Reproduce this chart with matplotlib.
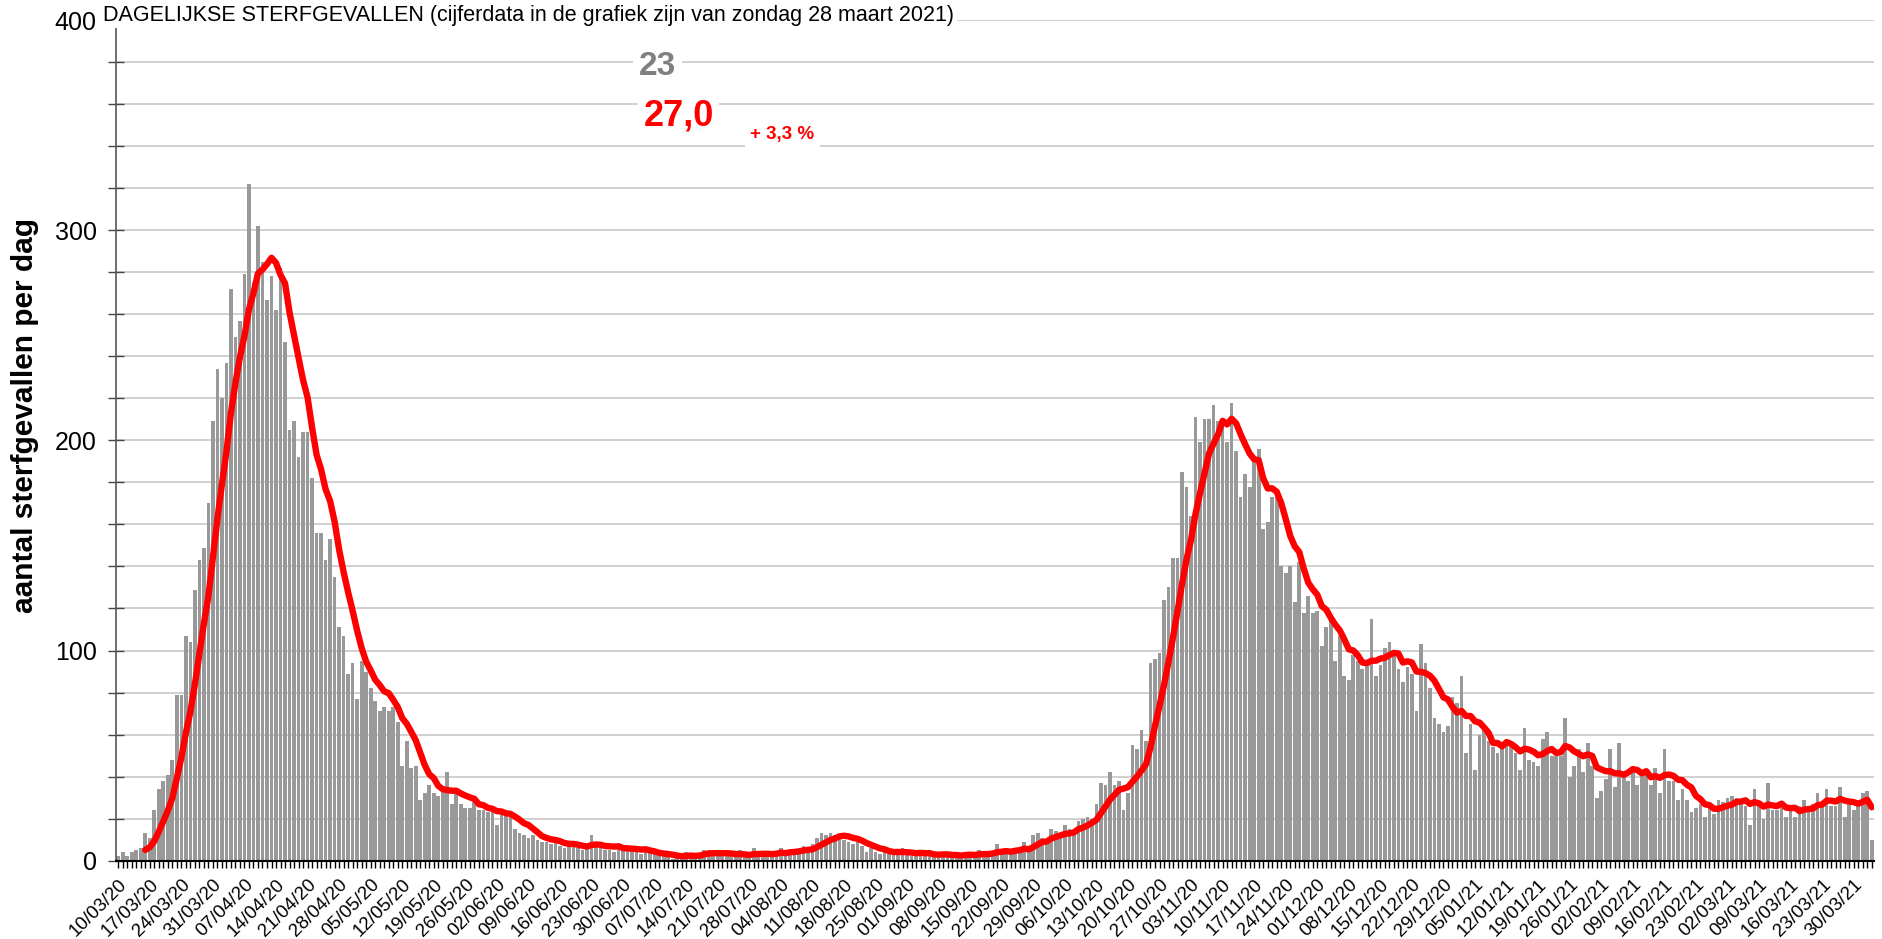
import matplotlib
matplotlib.use("Agg")
import matplotlib.pyplot as plt
import numpy as np
import pandas as pd

plt.rcParams["font.family"] = ["Liberation Sans", "DejaVu Sans"]

# Dagelijkse sterfgevallen vanaf 10/03/2020
wave1 = [2, 4, 2, 4, 5, 6, 13, 11, 24, 34, 38, 41, 48, 79, 79, 107, 104, 129, 143, 149,
         170, 209, 234, 220, 237, 272, 249, 257, 279, 322, 275, 302, 285, 267, 278, 262, 282, 247, 205, 209,
         192, 204, 204, 182, 156, 156, 143, 153, 135, 111, 107, 89, 94, 77, 95, 90, 82, 76, 71, 73,
         71, 73, 66, 45, 57, 44, 45, 29, 32, 36, 32, 31, 33, 42, 27, 32, 27, 25, 25, 28]
summer = [24, 24, 23, 24, 17, 24, 22,
          22, 15, 13, 12, 11, 12, 10,
          9, 9, 8, 10, 7, 6, 7,
          9, 6, 5, 7, 12, 8, 6,
          5, 5, 4, 8, 6, 7, 5,
          4, 3, 5, 4, 3, 2, 3,
          2, 1, 2, 2, 4, 3, 2,
          3, 5, 5, 3, 4, 3, 2,
          2, 3, 5, 2, 2, 6, 2,
          3, 3, 4, 3, 6, 4, 5,
          4, 5, 7, 5, 8, 11, 13,
          12, 13, 12, 12, 10, 9, 8,
          9, 7, 4, 6, 4, 3, 5,
          3, 4, 4, 6, 3, 2, 3,
          4, 3, 4, 2, 2, 3, 3,
          2, 3, 2, 4, 3, 2, 5,
          3, 3, 4, 8, 5, 4, 3,
          6, 5, 9, 6, 12, 13, 11,
          8, 15, 14, 11, 17, 15, 14,
          19, 20, 21, 20, 27]
wave2 = [37, 36, 42, 36, 38, 24, 32, 55, 53, 62, 57, 94, 96, 99, 124, 130, 144, 144, 185, 178,
         164, 211, 199, 210, 210, 217, 209, 209, 199, 218, 195, 173, 184, 178, 190, 196, 158, 161, 173, 173,
         140, 137, 140, 123, 142, 118, 126, 118, 119, 102, 111, 115, 95, 107, 88, 86, 98, 95, 91, 93,
         115, 88, 93, 101, 104, 98, 91, 85, 92, 89, 71, 103, 94, 82, 68, 65, 61, 64]
winter = [78, 75, 88, 51, 65, 43, 60, 62, 57, 54, 51, 54, 57, 54, 51, 43, 63, 48, 47, 45,
          58, 61, 50, 50, 50, 68, 40, 45, 53, 42, 56, 45, 30, 33, 39, 53, 35, 56, 40, 38,
          44, 36, 42, 42, 36, 44, 32, 53, 38, 38, 29, 34, 29, 23, 25]
spring = [27, 21, 26, 22, 29, 28, 30, 31, 30, 27, 26, 17, 34, 26, 20, 37, 24, 24, 25, 21,
          24, 21, 26, 29, 26, 27, 32, 26, 34, 26, 26, 35, 21, 29, 24, 29, 32, 33, 10]

deaths = np.array(wave1 + summer + wave2 + winter + spring, dtype=float)
dates = pd.date_range("2020-03-10", periods=len(deaths), freq="D")
avg7 = pd.Series(deaths).rolling(7).mean()

label_idx = list(range(0, len(deaths), 7))
tick_labels = [dates[i].strftime("%d/%m/%y") for i in label_idx]

last_value = "23"
last_avg = "27,0"
change = "+ 3,3 %"

fig = plt.figure(figsize=(18.83, 9.39), dpi=100)
ax = fig.add_axes([0.0616, 0.0834, 0.9336, 0.8953])

x = np.arange(len(deaths))
ax.bar(x, deaths, width=0.82, color="#999999", zorder=2)
ax.plot(x, avg7, color="#ff0000", lw=4.6, zorder=3, solid_capstyle="round", solid_joinstyle="round")

ax.set_xlim(-0.5, len(deaths) - 0.5)
ax.set_ylim(0, 400)
ax.set_yticks([0, 100, 200, 300, 400])
ax.set_yticks(np.arange(0, 401, 20), minor=True)
ax.yaxis.grid(True, which="both", color="#c8c8c8", lw=1.2, zorder=0)
ax.set_axisbelow(True)
ax.tick_params(axis="y", which="both", direction="inout", length=12, width=1, color="#444444",
               labelsize=18, pad=8)

ax.set_xticks(label_idx)
ax.set_xticklabels(tick_labels, rotation=45, ha="right", rotation_mode="anchor", fontsize=13.5)
ax.set_xticks(x, minor=True)
ax.tick_params(axis="x", which="both", direction="out", length=5, width=1, color="black", pad=6)

for side in ["top", "right"]:
    ax.spines[side].set_visible(False)
ax.spines["left"].set_color("#555555")
ax.spines["left"].set_linewidth(1.2)
ax.spines["bottom"].set_color("black")
ax.spines["bottom"].set_linewidth(1.5)

fig.text(0.0135, 0.558, "aantal sterfgevallen per dag", rotation=90, ha="center", va="center",
         fontsize=21.5, fontweight="bold")
fig.text(0.0547, 0.984, "DAGELIJKSE STERFGEVALLEN (cijferdata in de grafiek zijn van zondag 28 maart 2021)",
         ha="left", va="center", fontsize=15.5,
         bbox=dict(facecolor="white", edgecolor="none", pad=2))

box = dict(facecolor="white", edgecolor="none", pad=4)
ax.text(0.308, 0.945, last_value, transform=ax.transAxes, ha="center", va="center",
        fontsize=24, fontweight="bold", color="#808080", bbox=box, zorder=5)
ax.text(0.320, 0.886, last_avg, transform=ax.transAxes, ha="center", va="center",
        fontsize=26, fontweight="bold", color="#ff0000", bbox=box, zorder=5)
ax.text(0.379, 0.864, change, transform=ax.transAxes, ha="center", va="center",
        fontsize=13.5, fontweight="bold", color="#ff0000", bbox=box, zorder=5)

fig.savefig("out.png", dpi=100)
